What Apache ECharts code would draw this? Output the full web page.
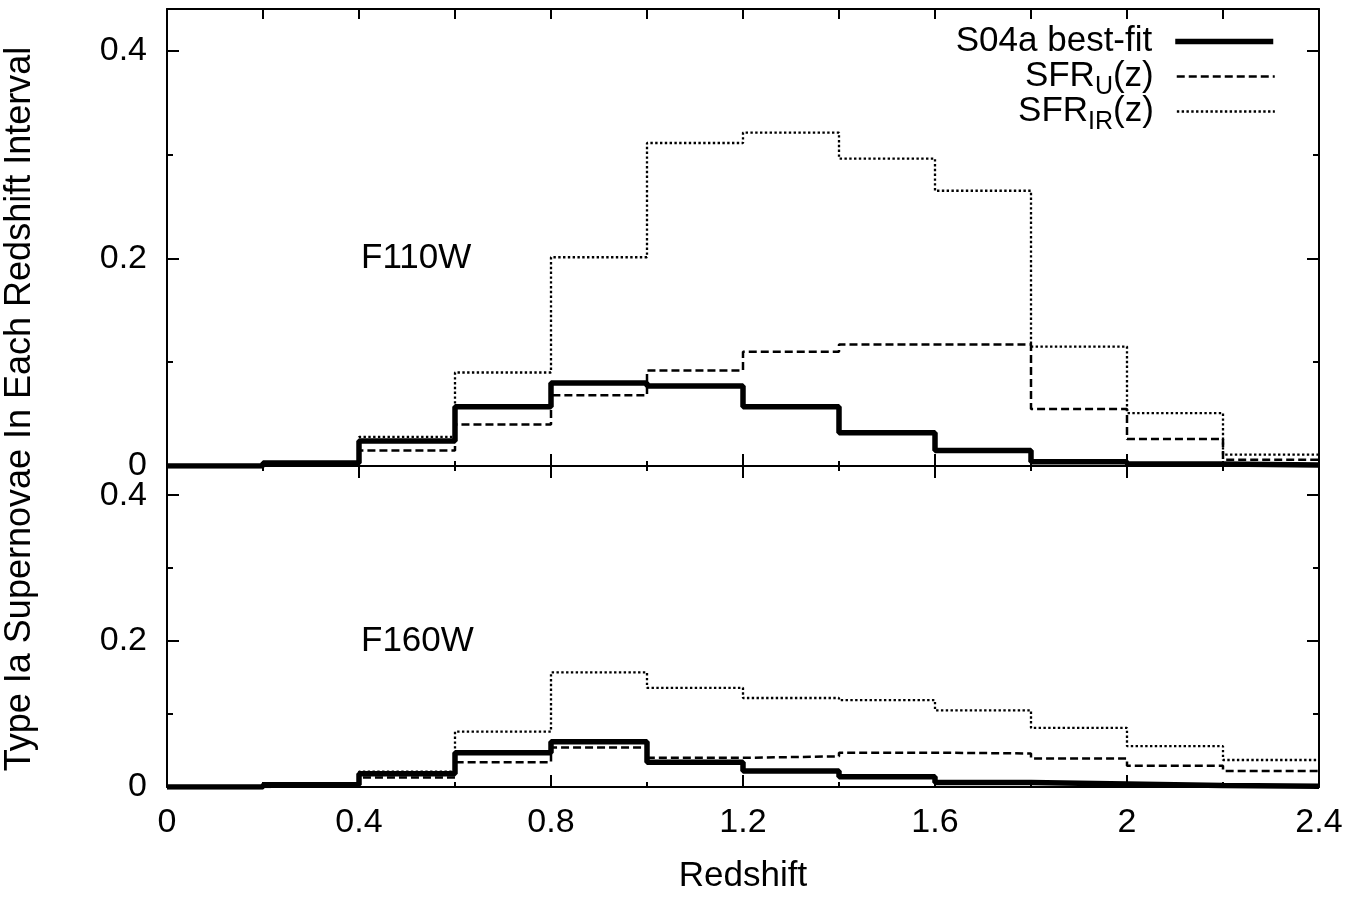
<!DOCTYPE html>
<html>
<head>
<meta charset="utf-8">
<title>Type Ia Supernovae per redshift interval</title>
<script src="https://cdn.jsdelivr.net/npm/echarts@6/dist/echarts.min.js"></script>
<style>
  html, body { margin: 0; padding: 0; background: #fff; }
  #chart { width: 1352px; height: 899px; }
</style>
</head>
<body>
<div id="chart"></div>
<script>
// redshift bins, width 0.2
var binEdges = [0, 0.2, 0.4, 0.6, 0.8, 1.0, 1.2, 1.4, 1.6, 1.8, 2.0, 2.2, 2.4];

// F110W panel (top)
var f110Best = [0, 0.003, 0.024, 0.057, 0.080, 0.077, 0.057, 0.032, 0.015, 0.004, 0.002, 0.001];
var f110SfrU = [0, 0.002, 0.015, 0.040, 0.068, 0.092, 0.110, 0.117, 0.117, 0.055, 0.026, 0.006];
var f110SfrIR = [0, 0.003, 0.028, 0.090, 0.201, 0.311, 0.321, 0.296, 0.265, 0.115, 0.051, 0.011];

// F160W panel (bottom)
var f160Best = [0, 0.003, 0.018, 0.047, 0.062, 0.034, 0.022, 0.014, 0.006, 0.004, 0.002, 0.001];
var f160SfrU = [0, 0.002, 0.013, 0.034, 0.054, 0.040, 0.042, 0.047, 0.046, 0.039, 0.029, 0.022];
var f160SfrIR = [0, 0.003, 0.021, 0.076, 0.157, 0.136, 0.122, 0.119, 0.105, 0.081, 0.056, 0.037];

var seriesNames = ['S04a best-fit', 'SFR_U(z)', 'SFR_IR(z)'];
var legendLabels = ['{p|S04a best-fit}', '{m|SFR}{s|U}{p|(z)}', '{m|SFR}{s|IR}{p|(z)}'];
var panelNames = ['F110W', 'F160W'];

var xTicks = [0, 0.4, 0.8, 1.2, 1.6, 2, 2.4];
var xTickLabels = ['0', '0.4', '0.8', '1.2', '1.6', '2', '2.4'];
var yTicks = [0, 0.2, 0.4];
var yTickLabels = ['0', '0.2', '0.4'];

var FONT = '"Liberation Sans", Arial, Helvetica, sans-serif';
var BLACK = '#000';
var X_MAX = 2.4, Y_MAX = 0.44;

function lookupLabel(ticks, labels) {
	return function(v) {
		for (var i = 0; i < ticks.length; i++) {
			if (Math.abs(ticks[i] - v) < 1e-6) return labels[i];
		}
		return '';
	};
}

// histogram -> points for a step line that turns at the end of each bin
function toSteps(vals) {
	var pts = [];
	for (var i = 0; i < vals.length; i++) {
		pts.push([binEdges[i], vals[i]]);
	}
	pts.push([binEdges[vals.length], vals[vals.length - 1]]);
	return pts;
}

function makeX(grid, pos, step, tickLen, withLine, withLabels) {
	return {
		type: 'value', gridIndex: grid, position: pos,
		min: 0, max: X_MAX, interval: step,
		axisLine: { show: withLine, onZero: false, lineStyle: { color: BLACK, width: 2 } },
		axisTick: { show: true, inside: true, length: tickLen, lineStyle: { color: BLACK, width: 2 } },
		axisLabel: {
			show: withLabels, margin: 19, fontSize: 34, fontFamily: FONT, color: BLACK,
			formatter: lookupLabel(xTicks, xTickLabels)
		},
		splitLine: { show: false }
	};
}

function makeY(grid, pos, step, tickLen, withLine, withLabels) {
	return {
		type: 'value', gridIndex: grid, position: pos,
		min: 0, max: Y_MAX, interval: step,
		axisLine: { show: withLine, onZero: false, lineStyle: { color: BLACK, width: 2 } },
		axisTick: { show: true, inside: true, length: tickLen, lineStyle: { color: BLACK, width: 2 } },
		axisLabel: {
			show: withLabels, margin: 20, fontSize: 34, fontFamily: FONT, color: BLACK,
			formatter: lookupLabel(yTicks, yTickLabels)
		},
		splitLine: { show: false }
	};
}

var xAxes = [], yAxes = [];
for (var g = 0; g < 2; g++) {
	var topLen = g === 0 ? 10 : 12;
	var topMinor = g === 0 ? 10 : 5;
	xAxes.push(makeX(g, 'bottom', 0.4, 12, true, g === 1));
	xAxes.push(makeX(g, 'bottom', 0.2, 5, false, false));
	xAxes.push(makeX(g, 'top', 0.4, topLen, true, false));
	xAxes.push(makeX(g, 'top', 0.2, topMinor, false, false));
	yAxes.push(makeY(g, 'left', 0.2, 12, true, true));
	yAxes.push(makeY(g, 'left', 0.1, 6, false, false));
	yAxes.push(makeY(g, 'right', 0.2, 12, true, false));
	yAxes.push(makeY(g, 'right', 0.1, 6, false, false));
}
xAxes[4].name = 'Redshift';
xAxes[4].nameLocation = 'middle';
xAxes[4].nameGap = 72;
xAxes[4].nameTextStyle = { fontSize: 35, fontFamily: FONT, color: BLACK };

var lineStyles = [
	{ color: BLACK, width: 5.5, type: 'solid' },
	{ color: BLACK, width: 2.5, type: [8, 4] },
	{ color: BLACK, width: 2.3, type: [2.4, 2.4] }
];

var panelData = [
	[f110Best, f110SfrU, f110SfrIR],
	[f160Best, f160SfrU, f160SfrIR]
];

var series = [];
for (var p = 0; p < 2; p++) {
	for (var s = 0; s < 3; s++) {
		series.push({
			name: seriesNames[s],
			type: 'line',
			step: 'end',
			xAxisIndex: p * 4,
			yAxisIndex: p * 4,
			symbol: 'none',
			lineStyle: lineStyles[s],
			z: 3 - s,
			data: toSteps(panelData[p][s])
		});
	}
}

var richText = {
	m: { fontSize: 35, fontFamily: FONT, color: BLACK, lineHeight: 46, verticalAlign: 'middle' },
	p: { fontSize: 35, fontFamily: FONT, color: BLACK, lineHeight: 46, verticalAlign: 'middle', padding: [0, 18, 0, 0] },
	s: { fontSize: 25, fontFamily: FONT, color: BLACK, lineHeight: 21, verticalAlign: 'bottom' }
};
var legendTops = [24, 59, 94];

var legends = seriesNames.map(function(name, i) {
	return {
		data: [name],
		orient: 'vertical',
		right: 76,
		top: legendTops[i],
		padding: 0,
		align: 'right',
		itemWidth: 98,
		itemHeight: 14,
		selectedMode: false,
		itemStyle: { color: 'rgba(0,0,0,0)', borderWidth: 0 },
		lineStyle: { width: lineStyles[i].width },
		formatter: legendLabels[i],
		textStyle: { fontSize: 35, fontFamily: FONT, color: BLACK, rich: richText }
	};
});

var myChart = echarts.init(document.getElementById('chart'));
var option = {
	animation: false,
	backgroundColor: '#fff',
	grid: [
		{ left: 167, right: 33, top: 9, height: 457, containLabel: false, outerBoundsMode: 'none' },
		{ left: 167, right: 33, top: 466, height: 321, containLabel: false, outerBoundsMode: 'none' }
	],
	xAxis: xAxes,
	yAxis: yAxes,
	legend: legends,
	graphic: [
		{
			type: 'text', x: 361, y: 258,
			style: { text: panelNames[0], fontSize: 35, fontFamily: FONT, fill: BLACK, align: 'left', verticalAlign: 'middle' }
		},
		{
			type: 'text', x: 361, y: 641,
			style: { text: panelNames[1], fontSize: 35, fontFamily: FONT, fill: BLACK, align: 'left', verticalAlign: 'middle' }
		},
		{
			type: 'text', x: 20, y: 409, rotation: Math.PI / 2,
			style: {
				text: 'Type Ia Supernovae In Each Redshift Interval',
				fontSize: 36, fontFamily: FONT, fill: BLACK, align: 'center', verticalAlign: 'middle'
			}
		}
	],
	series: series
};
myChart.setOption(option);
</script>
</body>
</html>
